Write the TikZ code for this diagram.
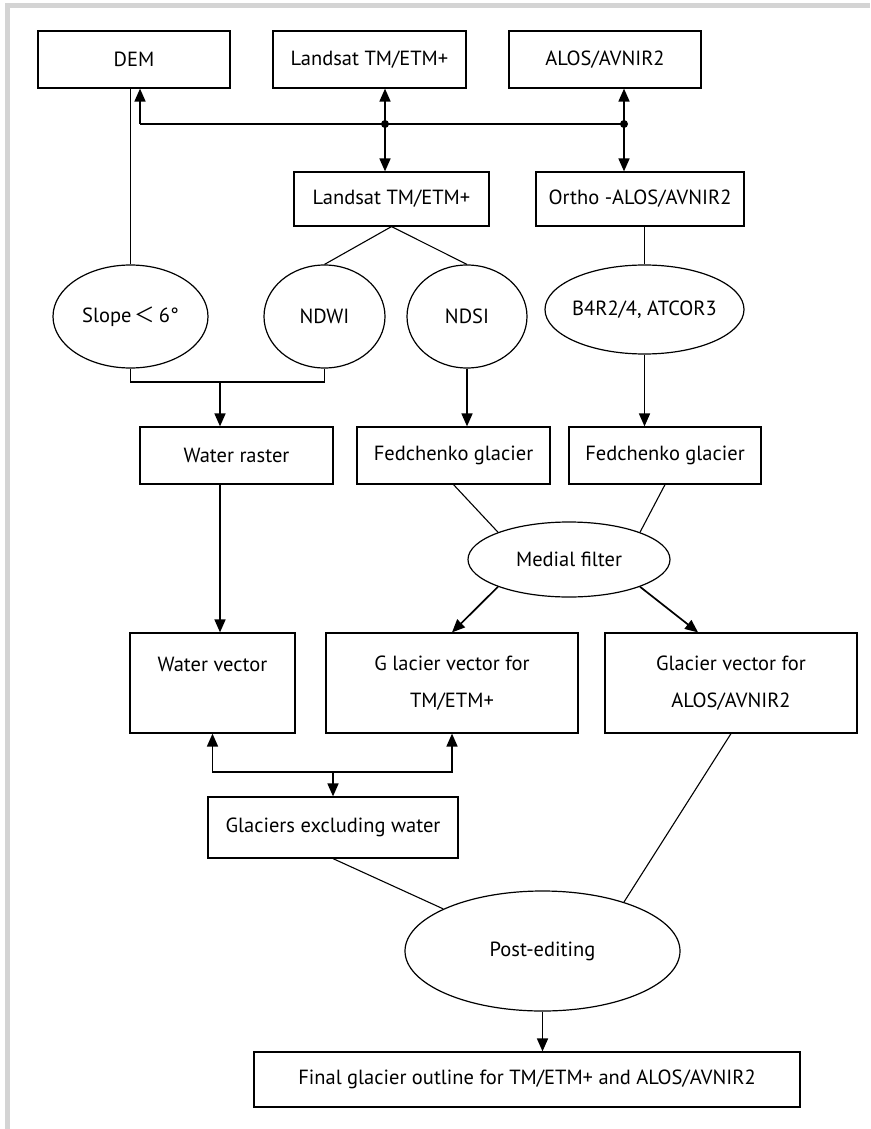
\documentclass[tikz,border=0pt]{standalone}
\usepackage{fontspec}
\setmainfont{PT Sans}
\newfontfamily\cjk{Noto Sans CJK SC}
\usetikzlibrary{shapes.geometric,arrows.meta,calc}
\definecolor{framegray}{RGB}{212,212,212}
\tikzset{
  box/.style={draw, line width=1.2pt, inner sep=0pt, align=center,
    font=\fontsize{20.5}{37}\selectfont},
  oval/.style={ellipse, draw, line width=1.2pt, inner sep=0pt,
    font=\fontsize{20.5}{24}\selectfont},
  link/.style={line width=1.1pt},
  flow/.style={line width=1.7pt, -{Triangle[length=13pt,width=11pt]}},
  jdot/.style={circle, fill, inner sep=0pt, minimum size=8pt}
}
\begin{document}
\begin{tikzpicture}[x=1pt, y=-1pt]
  % Frame
  \useasboundingbox (0,0) rectangle (870,1129);
  \fill[framegray] (5,3) rectangle (870,8);
  \fill[framegray] (5,3) rectangle (10,1129);

  % Input data
  \node[box, minimum width=192pt, minimum height=57pt] (dem) at (134,59.5) {DEM};
  \node[box, minimum width=193pt, minimum height=57pt] (lstop) at (369.5,59.5) {Landsat TM/ETM+};
  \node[box, minimum width=192pt, minimum height=57pt] (alos) at (605,59.5) {ALOS/AVNIR2};

  % Bus and junctions
  \coordinate (busl) at (140,124);
  \node[jdot] (jls) at (385,124) {};
  \node[jdot] (jal) at (624,124) {};
  \draw[line width=1.7pt] (busl) -- (jal.center);
  \draw[flow] (busl) -- (busl |- dem.south);
  \draw[flow] (jls.center) -- (jls |- lstop.south);
  \draw[flow] (jal.center) -- (jal |- alos.south);

  % Preprocessed images
  \node[box, minimum width=195pt, minimum height=54pt] (ls) at (391.5,199) {Landsat TM/ETM+};
  \node[box, minimum width=208pt, minimum height=54pt] (ortho) at (640,199) {Ortho -ALOS/AVNIR2};
  \draw[flow] (jls.center) -- (jls |- ls.north);
  \draw[flow] (jal.center) -- (jal |- ortho.north);

  % Indices
  \node[oval, minimum width=155pt, minimum height=103pt] (slope) at (130.5,316.5) {Slope\,{\cjk ＜}\,6°};
  \node[oval, minimum width=121pt, minimum height=103pt] (ndwi) at (324.5,316.5) {NDWI};
  \node[oval, minimum width=120pt, minimum height=103pt] (ndsi) at (467,316.5) {NDSI};
  \node[oval, inner xsep=-16pt, minimum width=199pt, minimum height=89pt] (ratio) at (644.5,309.5) {B4R2/4, ATCOR3};
  \draw[link] (slope.north) -- (slope.north |- dem.south);
  \draw[link] (ls.south) -- (ndwi.north);
  \draw[link] (ls.south) -- (ndsi.north);
  \draw[link] (ratio.north) -- (ratio.north |- ortho.south);

  % Rasters
  \node[box, minimum width=193pt, minimum height=57pt] (raster) at (236.5,455.5) {Water raster};
  \node[box, minimum width=193pt, minimum height=57pt] (fedtm) at (453.5,455.5) {Fedchenko glacier};
  \node[box, minimum width=192pt, minimum height=57pt] (fedal) at (665,455.5) {Fedchenko glacier};
  \coordinate (wj) at (220,382);
  \draw[link] (slope.south) |- (wj) -| (ndwi.south);
  \draw[flow] (wj) -- (wj |- raster.north);
  \draw[flow] (ndsi.south) -- (ndsi.south |- fedtm.north);
  \draw[flow] (ratio.south) -- (ratio.south |- fedal.north);

  % Filtering
  \node[oval, minimum width=202pt, minimum height=75pt] (medial) at (569,559.5) {Medial filter};
  \draw[link] (fedtm.south) -- (medial.159);
  \draw[link] (fedal.south) -- (medial.21);

  % Vectors
  \node[box, minimum width=165pt, minimum height=100pt] (wvec) at (212.5,683) {Water vector\\\mbox{}};
  \node[box, minimum width=252pt, minimum height=100pt] (gtm) at (452,683) {G lacier vector for\\TM/ETM+};
  \node[box, minimum width=252pt, minimum height=100pt] (galos) at (731,683) {Glacier vector for\\ALOS/AVNIR2};
  \draw[flow] (wj |- raster.south) -- (wj |- wvec.north);
  \draw[flow] (medial.201) -- (gtm.north);
  \draw[flow] (medial.339) -- ($(galos.north west)!0.37!(galos.north east)$);

  % Merging
  \node[box, minimum width=250pt, minimum height=61pt] (gexcl) at (333,827.5) {Glaciers excluding water};
  \coordinate (mj) at (333,772);
  \draw[line width=1.7pt, {Triangle[length=13pt,width=11pt]}-{Triangle[length=13pt,width=11pt]}]
    (wvec.south) |- (mj) -| (gtm.south);
  \draw[flow] (mj) -- (gexcl.north);

  % Editing
  \node[oval, minimum width=275pt, minimum height=120pt] (post) at (542.5,951) {Post-editing};
  \node[box, minimum width=546pt, minimum height=55pt] (final) at (527,1079.5) {Final glacier outline for TM/ETM+ and ALOS/AVNIR2};
  \draw[link] (gexcl.south) -- (post.157);
  \draw[link] (galos.south) -- (post.31);
  \draw[flow] (post.south) -- (post.south |- final.north);
\end{tikzpicture}
\end{document}
